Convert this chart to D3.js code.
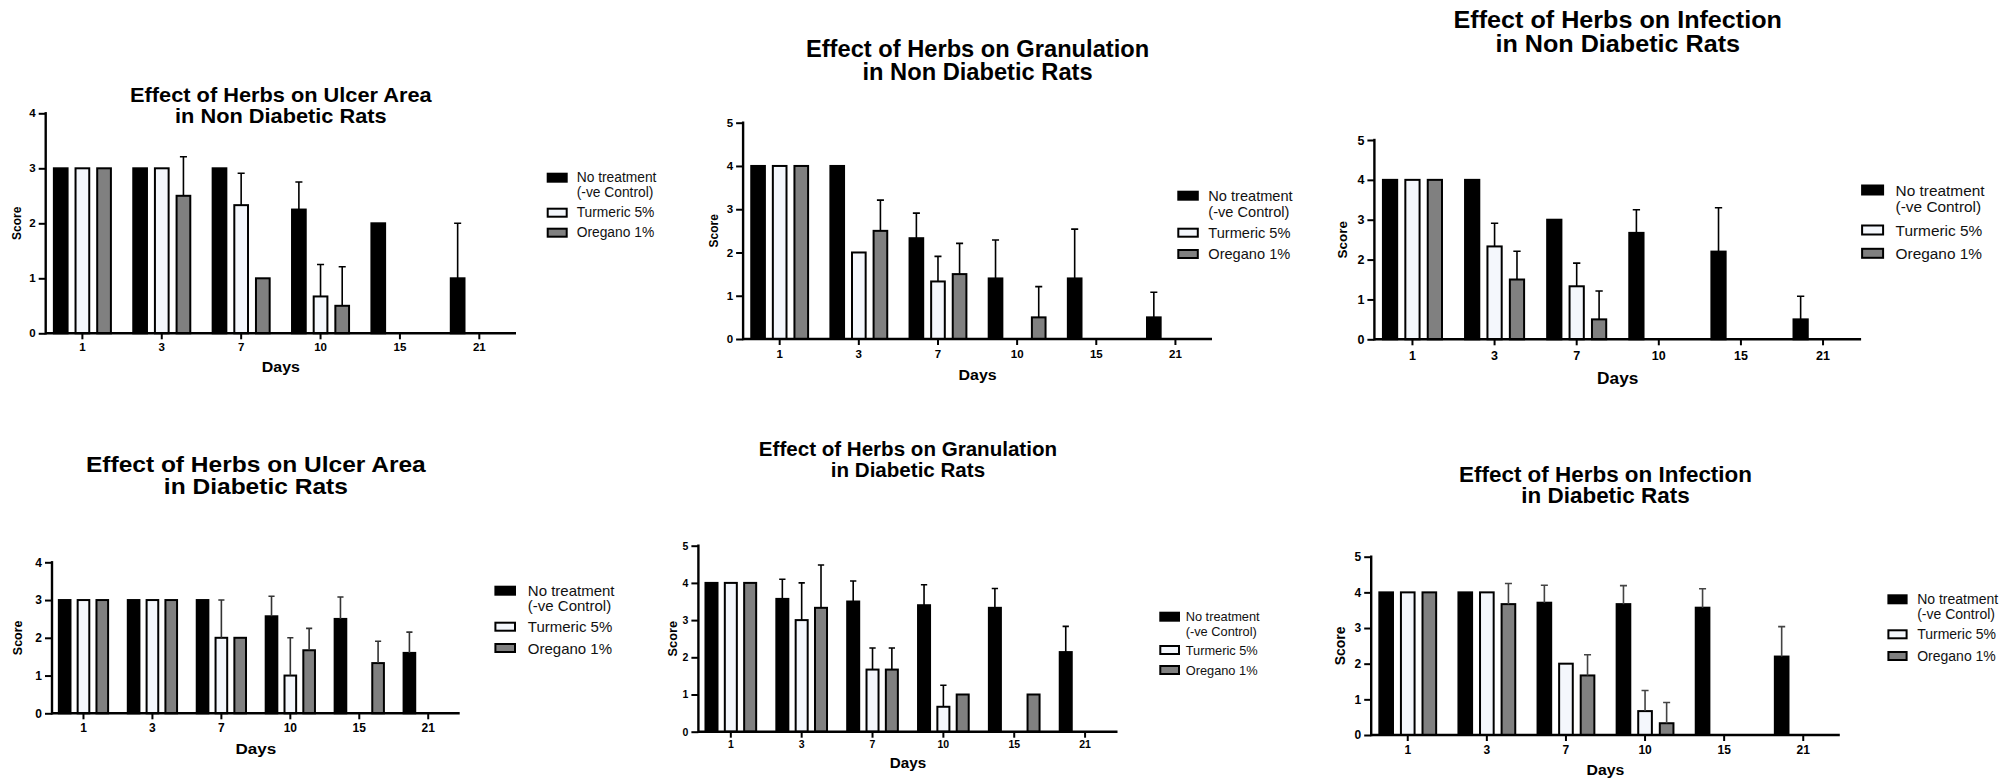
<!DOCTYPE html>
<html>
<head>
<meta charset="utf-8">
<script src="https://cdn.jsdelivr.net/npm/d3@7"></script>
<style>
  body { margin: 0; background: #fff; }
  svg { display: block; font-family: 'Liberation Sans', Arial, Helvetica, sans-serif; }
</style>
</head>
<body>
<div id="chart"></div>
<script>
const days = ['1', '3', '7', '10', '15', '21'];
const groups = ['No treatment (-ve Control)', 'Turmeric 5%', 'Oregano 1%'];
const legendLabels = [['No treatment', '(-ve Control)'], ['Turmeric 5%'], ['Oregano 1%']];
const groupFills = ['#000000', '#f4f7fc', '#808080'];

// rows: control, turmeric, oregano -- one value per day
const ulcerNonDiabeticMeans = [
	[3, 3, 3, 2.25, 2, 1],
	[3, 3, 2.33, 0.67, 0, 0],
	[3, 2.5, 1, 0.5, 0, 0],
];
const ulcerNonDiabeticSD = [
	[0, 0, 0, 0.5, 0, 1],
	[0, 0, 0.58, 0.58, 0, 0],
	[0, 0.71, 0, 0.71, 0, 0],
];

const granulationNonDiabeticMeans = [
	[4, 4, 2.33, 1.4, 1.4, 0.5],
	[4, 2, 1.33, 0, 0, 0],
	[4, 2.5, 1.5, 0.5, 0, 0],
];
const granulationNonDiabeticSD = [
	[0, 0, 0.58, 0.89, 1.14, 0.58],
	[0, 0, 0.58, 0, 0, 0],
	[0, 0.71, 0.71, 0.71, 0, 0],
];

const infectionNonDiabeticMeans = [
	[4, 4, 3, 2.67, 2.2, 0.5],
	[4, 2.33, 1.33, 0, 0, 0],
	[4, 1.5, 0.5, 0, 0, 0],
];
const infectionNonDiabeticSD = [
	[0, 0, 0, 0.58, 1.1, 0.58],
	[0, 0.58, 0.58, 0, 0, 0],
	[0, 0.71, 0.71, 0, 0, 0],
];

const ulcerDiabeticMeans = [
	[3, 3, 3, 2.57, 2.5, 1.6],
	[3, 3, 2, 1, 0, 0],
	[3, 3, 2, 1.67, 1.33, 0],
];
const ulcerDiabeticSD = [
	[0, 0, 0, 0.53, 0.58, 0.55],
	[0, 0, 1, 1, 0, 0],
	[0, 0, 0, 0.58, 0.58, 0],
];

const granulationDiabeticMeans = [
	[4, 3.57, 3.5, 3.4, 3.33, 2.14],
	[4, 3, 1.67, 0.67, 0, 0],
	[4, 3.33, 1.67, 1, 1, 0],
];
const granulationDiabeticSD = [
	[0, 0.53, 0.55, 0.55, 0.52, 0.69],
	[0, 1, 0.58, 0.58, 0, 0],
	[0, 1.15, 0.58, 0, 0, 0],
];

const infectionDiabeticMeans = [
	[4, 4, 3.71, 3.67, 3.57, 2.2],
	[4, 4, 2, 0.67, 0, 0],
	[4, 3.67, 1.67, 0.33, 0, 0],
];
const infectionDiabeticSD = [
	[0, 0, 0.49, 0.52, 0.53, 0.84],
	[0, 0, 0, 0.58, 0, 0],
	[0, 0.58, 0.58, 0.58, 0, 0],
];

const titles = [
	['Effect of Herbs on Ulcer Area', 'in Non Diabetic Rats'],
	['Effect of Herbs on Granulation', 'in Non Diabetic Rats'],
	['Effect of Herbs on Infection', 'in Non Diabetic Rats'],
	['Effect of Herbs on Ulcer Area', 'in Diabetic Rats'],
	['Effect of Herbs on Granulation', 'in Diabetic Rats'],
	['Effect of Herbs on Infection', 'in Diabetic Rats'],
];
const yMaxes = [4, 5, 5, 4, 5, 5];
const xLabel = 'Days';
const yLabel = 'Score';

// layout of each panel on the page
const panels = [
	{means: ulcerNonDiabeticMeans, sd: ulcerNonDiabeticSD,
		left: 45.7, right: 516, top: 113.3, zero: 333.3,
		title: {size: 19.8, sx: 1.1, y: [101.7, 123.3]},
		tickSize: 11.5, tickPad: 4,
		days: {size: 14.5, y: 371.7}, score: {size: 12, dx: 29},
		legend: {x: 546.7, tx: 576.7, w: 21, h: 10, size: 13.8, rows: [177.7, 192.3, 212.7, 232.7]},
		errColor: '#000'},
	{means: granulationNonDiabeticMeans, sd: granulationNonDiabeticSD,
		left: 743.1, right: 1212, top: 122.7, zero: 339,
		title: {size: 23, sx: 1.03, y: [57.3, 80]},
		tickSize: 11.5, tickPad: 5,
		days: {size: 15.5, y: 380}, score: {size: 12, dx: 29.4},
		legend: {x: 1177.3, tx: 1208.3, w: 21.5, h: 10, size: 14.6, rows: [195.7, 211.7, 232.7, 254]},
		errColor: '#000'},
	{means: infectionNonDiabeticMeans, sd: infectionNonDiabeticSD,
		left: 1374.4, right: 1861.1, top: 140, zero: 339.3,
		title: {size: 23.3, sx: 1.08, y: [28.3, 51.7]},
		tickSize: 12.5, tickPad: 6,
		days: {size: 16, y: 384}, score: {size: 13.5, dx: 32.4},
		legend: {x: 1861.1, tx: 1895.6, w: 23, h: 11, size: 15.4, rows: [190, 206.7, 230, 253.3]},
		errColor: '#000'},
	{means: ulcerDiabeticMeans, sd: ulcerDiabeticSD,
		left: 52, right: 459.7, top: 562.3, zero: 713.3,
		title: {size: 22.3, sx: 1.1, y: [471.7, 494.3]},
		tickSize: 12, tickPad: 4,
		days: {size: 15.5, y: 754}, score: {size: 12.5, dx: 33.8},
		legend: {x: 494.4, tx: 527.8, w: 21.6, h: 10, size: 15, rows: [590.7, 605.7, 626.7, 648]},
		errColor: '#333'},
	{means: granulationDiabeticMeans, sd: granulationDiabeticSD,
		left: 698.4, right: 1117.5, top: 545.7, zero: 731.7,
		title: {size: 19.6, sx: 1.05, y: [456, 476.7]},
		tickSize: 10.5, tickPad: 3,
		days: {size: 14.5, y: 767.7}, score: {size: 12.8, dx: 26.4},
		legend: {x: 1159.3, tx: 1185.7, w: 20.7, h: 10, size: 12.8, rows: [616.7, 631.3, 650, 670]},
		errColor: '#000'},
	{means: infectionDiabeticMeans, sd: infectionDiabeticSD,
		left: 1371.2, right: 1839.8, top: 556.7, zero: 735,
		title: {size: 22, sx: 1.02, y: [481.7, 503.3]},
		tickSize: 12, tickPad: 4,
		days: {size: 15.5, y: 775}, score: {size: 14, dx: 31.5},
		legend: {x: 1887.4, tx: 1917.2, w: 20.2, h: 10, size: 14, rows: [599.3, 614.3, 634.3, 656]},
		errColor: '#444'},
];

const svg = d3.select('#chart').append('svg')
		.attr('width', 2006)
		.attr('height', 781);

svg.append('rect')
		.attr('width', 2006)
		.attr('height', 781)
		.attr('fill', '#fff');

panels.forEach((p, pi) => {
	const g = svg.append('g').attr('class', 'panel');
	const cx = (p.left + p.right) / 2;

	const x = d3.scaleBand()
			.domain(days)
			.range([p.left - 3, p.right + 3]);
	const xs = d3.scaleBand()
			.domain(d3.range(groups.length))
			.range([0, x.bandwidth()])
			.paddingInner(0.275)
			.paddingOuter(0.47);
	const y = d3.scaleLinear()
			.domain([0, yMaxes[pi]])
			.range([p.zero, p.top]);

	// bars
	groups.forEach((name, si) => {
		const rows = days.map((d, i) => ({day: d, v: p.means[si][i], sd: p.sd[si][i]}));
		g.selectAll(null)
				.data(rows.filter((d) => d.v > 0))
			.enter().append('rect')
				.attr('x', (d) => x(d.day) + xs(si) + 1)
				.attr('y', (d) => y(d.v))
				.attr('width', xs.bandwidth() - 2)
				.attr('height', (d) => y(0) - y(d.v))
				.attr('fill', groupFills[si])
				.attr('stroke', '#000')
				.attr('stroke-width', 2);

		const errs = rows.filter((d) => d.v > 0 && d.sd > 0);
		const cap = xs.bandwidth() * 0.45;
		g.selectAll(null)
				.data(errs)
			.enter().append('path')
				.attr('d', (d) => {
					const bx = x(d.day) + xs(si) + xs.bandwidth() / 2;
					const top = y(d.v + d.sd);
					return `M${bx},${y(d.v)}V${top}M${bx - cap / 2},${top}H${bx + cap / 2}`;
				})
				.attr('fill', 'none')
				.attr('stroke', p.errColor)
				.attr('stroke-width', 1.6);
	});

	// y axis
	const yAxis = d3.axisLeft(y)
			.ticks(yMaxes[pi])
			.tickFormat(d3.format('d'))
			.tickSize(7)
			.tickSizeOuter(0)
			.tickPadding(3);
	const ya = g.append('g')
			.attr('transform', `translate(${p.left}, 0)`)
			.call(yAxis);
	ya.select('.domain').remove();
	ya.selectAll('.tick line').attr('stroke-width', 2);
	ya.selectAll('.tick text')
			.attr('font-size', p.tickSize)
			.attr('font-weight', 'bold')
			.attr('fill', '#000');

	// x axis
	const xAxis = d3.axisBottom(x)
			.tickSize(6)
			.tickSizeOuter(0)
			.tickPadding(p.tickPad);
	const xa = g.append('g')
			.attr('transform', `translate(0, ${p.zero})`)
			.call(xAxis);
	xa.select('.domain').remove();
	xa.selectAll('.tick line').attr('stroke-width', 2);
	xa.selectAll('.tick text')
			.attr('font-size', p.tickSize)
			.attr('font-weight', 'bold')
			.attr('fill', '#000');

	g.append('line')
			.attr('x1', p.left).attr('x2', p.left)
			.attr('y1', p.zero).attr('y2', p.top)
			.attr('stroke', '#000')
			.attr('stroke-width', 2.4)
			.attr('stroke-linecap', 'square');
	g.append('line')
			.attr('x1', p.left).attr('x2', p.right)
			.attr('y1', p.zero).attr('y2', p.zero)
			.attr('stroke', '#000')
			.attr('stroke-width', 2.4);

	// title
	const t = g.append('g')
			.attr('transform', `translate(${cx}, 0) scale(${p.title.sx}, 1)`);
	titles[pi].forEach((line, li) => {
		t.append('text')
				.attr('x', 0)
				.attr('y', p.title.y[li])
				.attr('text-anchor', 'middle')
				.attr('font-size', p.title.size)
				.attr('font-weight', 'bold')
				.text(line);
	});

	// axis labels
	g.append('text')
			.attr('transform', `translate(${cx}, ${p.days.y}) scale(${p.title.sx}, 1)`)
			.attr('text-anchor', 'middle')
			.attr('font-size', p.days.size)
			.attr('font-weight', 'bold')
			.text(xLabel);
	g.append('text')
			.attr('transform', `translate(${p.left - p.score.dx}, ${(p.top + p.zero) / 2}) rotate(-90)`)
			.attr('text-anchor', 'middle')
			.attr('dominant-baseline', 'central')
			.attr('font-size', p.score.size)
			.attr('font-weight', 'bold')
			.text(yLabel);

	// legend
	const L = p.legend;
	const rowOf = [0, 2, 3];
	groups.forEach((name, si) => {
		const ry = L.rows[rowOf[si]];
		g.append('rect')
				.attr('x', L.x + 1)
				.attr('y', ry - L.h / 2 + 1)
				.attr('width', L.w - 2)
				.attr('height', L.h - 2)
				.attr('fill', groupFills[si])
				.attr('stroke', '#000')
				.attr('stroke-width', 2);
		legendLabels[si].forEach((line, li) => {
			g.append('text')
					.attr('x', L.tx)
					.attr('y', L.rows[rowOf[si] + li])
					.attr('dominant-baseline', 'central')
					.attr('font-size', L.size)
					.attr('fill', '#111')
					.text(line);
		});
	});
});
</script>
</body>
</html>
